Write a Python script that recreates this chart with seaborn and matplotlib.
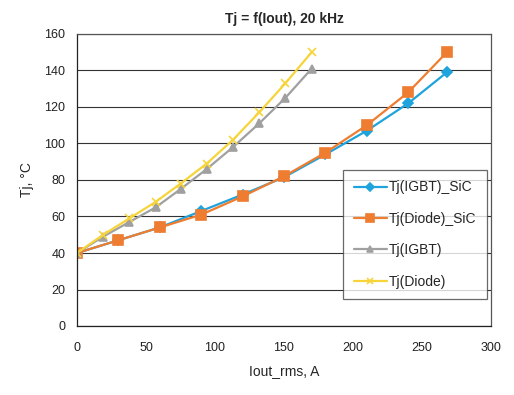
import pandas as pd
import numpy as np
import seaborn as sns
import matplotlib.pyplot as plt

# Values
x_sic = [0, 30, 60, 90, 120, 150, 180, 210, 240, 268]
tj_igbt_sic = [40, 47, 54, 63, 72, 81.5, 94, 107, 122, 139]
tj_diode_sic = [40, 47, 54, 61, 71, 82, 95, 110, 128, 150]

x_si = [0, 19, 38, 57, 75, 94, 113, 132, 151, 170]
tj_igbt = [40, 49, 57, 65, 75, 86, 98, 111, 125, 141]
tj_diode = [40, 50, 59, 68, 78, 89, 102, 117, 133, 150]

labels = ['Tj(IGBT)_SiC', 'Tj(Diode)_SiC', 'Tj(IGBT)', 'Tj(Diode)']
colors = ['#1fa3dc', '#ee7d31', '#a0a0a0', '#f6d43a']
markers = ['D', 's', '^', 'x']
msizes = [5, 7, 6, 6]

frames = []
for lab, xs, ys in zip(labels,
                       [x_sic, x_sic, x_si, x_si],
                       [tj_igbt_sic, tj_diode_sic, tj_igbt, tj_diode]):
    frames.append(pd.DataFrame({'Iout': xs, 'Tj': ys, 'series': lab}))
df = pd.concat(frames, ignore_index=True)

sns.set_style('white')
plt.rcParams['font.family'] = ['Liberation Sans', 'DejaVu Sans']

fig = plt.figure(figsize=(5.14, 3.95), dpi=100)
ax = fig.add_axes([77 / 514, 1 - 326 / 395, (491 - 77) / 514, (326 - 34) / 395])

for lab, c, m, ms in zip(labels, colors, markers, msizes):
    sub = df[df['series'] == lab]
    sns.lineplot(data=sub, x='Iout', y='Tj', ax=ax, color=c, marker=m,
                 markersize=ms, markeredgecolor=c, markeredgewidth=1.2,
                 linewidth=1.6, label=lab, sort=False)

ax.set_xlim(0, 300)
ax.set_ylim(0, 160)
ax.set_xticks(range(0, 301, 50))
ax.set_yticks(range(0, 161, 20))
ax.yaxis.grid(True, color='#333333', linewidth=0.8)
ax.set_axisbelow(True)
for s in ax.spines.values():
    s.set_color('#555555')
    s.set_linewidth(0.9)
ax.spines['left'].set_color('#222222')
ax.spines['bottom'].set_color('#222222')
ax.tick_params(direction='inout', length=5, width=0.8, colors='#222222',
               labelsize=9, pad=6)
ax.tick_params(axis='x', pad=9)

ax.set_title('Tj = f(Iout), 20 kHz', fontsize=10, fontweight='bold', pad=8)
ax.set_xlabel('Iout_rms, A', fontsize=10, labelpad=7)
ax.set_ylabel('Tj, °C', fontsize=10, labelpad=7)

leg = ax.legend(loc='upper left', bbox_to_anchor=(0.643, 0.534), fontsize=10,
                frameon=True, fancybox=False, edgecolor='#444444',
                labelspacing=1.25, handlelength=2.4, borderpad=0.75,
                handletextpad=0.15, borderaxespad=0, markerscale=0.75)
leg.get_frame().set_linewidth(0.9)

fig.savefig('out.png', dpi=100)
